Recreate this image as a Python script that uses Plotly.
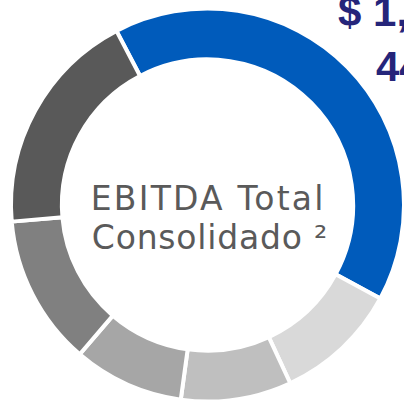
import plotly.graph_objects as go

segments = ["Seg A", "Seg B", "Seg C", "Seg D", "Seg E", "Seg F"]
shares = [40.6, 10.2, 9.1, 9.1, 12.4, 18.7]
colors = ["#005BBB", "#D9D9D9", "#BFBFBF", "#A6A6A6", "#808080", "#595959"]

center_line1 = "EBITDA Total"
center_line2 = "Consolidado ²"
value_line1 = "$ 1,4"
value_line2 = "44"

W, H = 404, 403

fig = go.Figure()
fig.add_trace(go.Pie(
    labels=segments,
    values=shares,
    marker=dict(colors=colors, line=dict(color="white", width=4)),
    hole=0.741,
    sort=False,
    direction="clockwise",
    rotation=-27.6,
    textinfo="none",
    hoverinfo="label+percent",
    showlegend=False,
    domain=dict(x=[11 / W, 1.0], y=[1 / H, 395 / H]),
))

fig.add_annotation(text=center_line1, x=208 / W, y=1 - 198 / H, xref="paper", yref="paper",
                   showarrow=False, xanchor="center", yanchor="middle",
                   font=dict(family="DejaVu Sans", size=33, color="#5A5A5A"))
fig.add_annotation(text=center_line2, x=210 / W, y=1 - 237 / H, xref="paper", yref="paper",
                   showarrow=False, xanchor="center", yanchor="middle",
                   font=dict(family="DejaVu Sans", size=33, color="#5A5A5A"))
fig.add_annotation(text=value_line1, x=336 / W, y=1 - 11 / H, xref="paper", yref="paper",
                   showarrow=False, xanchor="left", yanchor="middle",
                   font=dict(family="Liberation Sans", size=42, color="#25257A", weight="bold"))
fig.add_annotation(text=value_line2, x=374 / W, y=1 - 66 / H, xref="paper", yref="paper",
                   showarrow=False, xanchor="left", yanchor="middle",
                   font=dict(family="Liberation Sans", size=42, color="#25257A", weight="bold"))

fig.update_layout(
    width=W, height=H,
    margin=dict(l=0, r=0, t=0, b=0),
    paper_bgcolor="white", plot_bgcolor="white",
)

post = (
    "document.body.style.margin='0';document.body.style.overflow='hidden';"
    "var t=document.querySelectorAll('.annotation-text');"
    "if(t.length>1){t[0].style.letterSpacing='2.2px';t[1].style.letterSpacing='0.8px';}"
)
fig.write_html("out.html", config={"displayModeBar": False}, post_script=post)
